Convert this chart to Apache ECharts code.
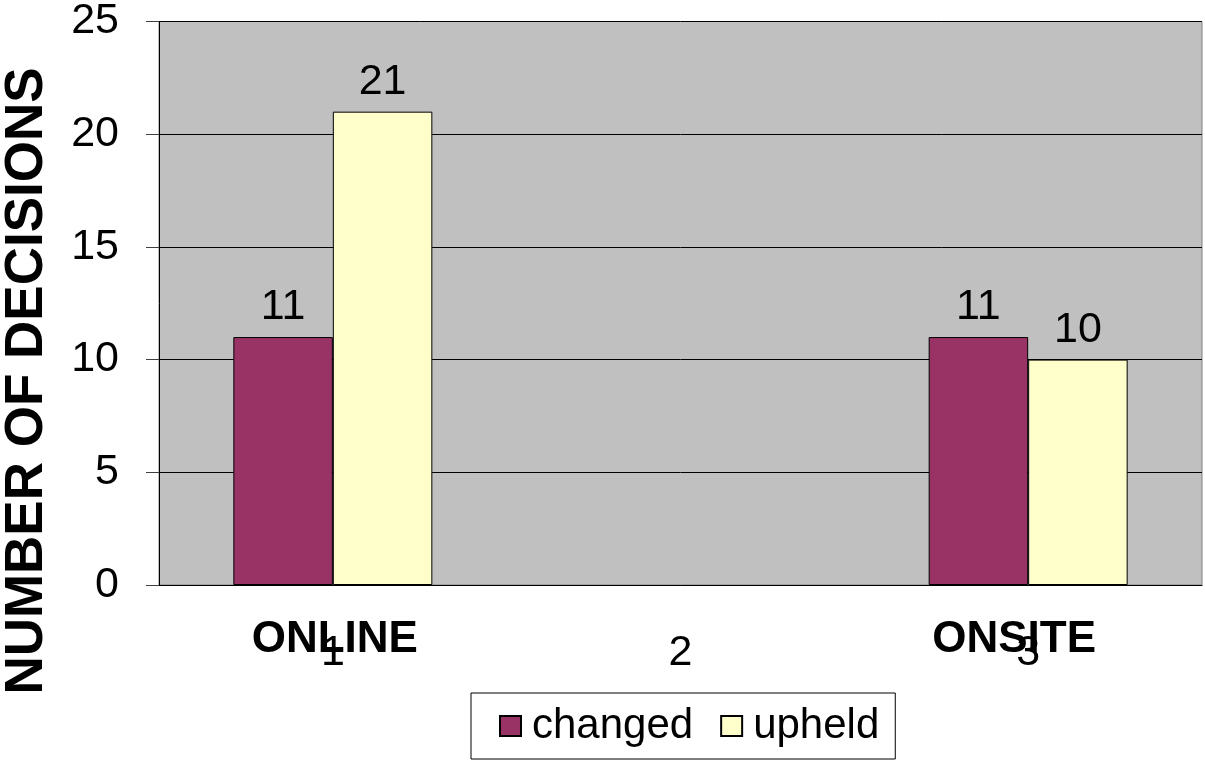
<!DOCTYPE html>
<html>
<head>
<meta charset="utf-8">
<script src="https://cdn.jsdelivr.net/npm/echarts@6/dist/echarts.min.js"></script>
<style>
html,body{margin:0;padding:0;background:#fff;}
#chart{width:1205px;height:763px;}
</style>
</head>
<body>
<div id="chart"></div>
<script>
const categories = ['1', '2', '3'];
const groupNames = ['ONLINE', '', 'ONSITE'];
const groupNameShift = [2, 0, -14];
const changed = [11, null, 11];
const upheld = [21, null, 10];
const yTicks = { min: 0, max: 25, interval: 5 };
const yTitle = 'NUMBER OF DECISIONS';

const FONT = '"Liberation Sans", Arial, sans-serif';
const chart = echarts.init(document.getElementById('chart'), null, { renderer: 'canvas' });

const labelCfg = {
  show: true, position: 'top', distance: 8,
  color: '#000', fontSize: 43, fontFamily: FONT
};

chart.setOption({
  animation: false,
  backgroundColor: '#ffffff',
  grid: {
    left: 159, right: 3, top: 19, bottom: 178,
    show: true, backgroundColor: '#C0C0C0', borderColor: '#808080', borderWidth: 1
  },
  legend: {
    left: 471, top: 693,
    padding: [12, 16, 12, 28],
    borderColor: '#000', borderWidth: 1,
    itemWidth: 21, itemHeight: 20, itemGap: 27,
    icon: 'rect',
    textStyle: { fontSize: 42, fontFamily: FONT, color: '#000', padding: [0, 0, 0, 6] },
    data: ['changed', 'upheld']
  },
  xAxis: {
    type: 'category',
    data: categories,
    axisLine: { lineStyle: { color: '#000', width: 1 } },
    axisTick: { length: 14, lineStyle: { color: '#404040' } },
    axisLabel: { color: '#000', fontSize: 43, fontFamily: FONT, margin: 47 }
  },
  yAxis: {
    type: 'value',
    min: yTicks.min, max: yTicks.max, interval: yTicks.interval,
    axisLine: { show: true, lineStyle: { color: '#000', width: 1 } },
    axisTick: { show: true, length: 13, lineStyle: { color: '#404040' } },
    axisLabel: { color: '#000', fontSize: 43, fontFamily: FONT, margin: 40 },
    splitLine: { show: true, lineStyle: { color: '#000', width: 1 } }
  },
  series: [
    {
      name: 'changed', type: 'bar', data: changed,
      barWidth: 99.5, barGap: '0%',
      itemStyle: { color: '#993366', borderColor: '#000', borderWidth: 1 },
      label: labelCfg
    },
    {
      name: 'upheld', type: 'bar', data: upheld,
      barWidth: 99.5, barGap: '0%',
      itemStyle: { color: '#FFFFCC', borderColor: '#000', borderWidth: 1 },
      label: labelCfg
    }
  ]
});

const graphics = [{
  type: 'text',
  x: 27, y: 381,
  rotation: Math.PI / 2,
  style: {
    text: yTitle, fontSize: 53, fontWeight: 'bold', fontFamily: FONT, fill: '#000',
    align: 'center', verticalAlign: 'middle'
  },
  z: 100
}];
groupNames.forEach(function (name, i) {
  if (!name) return;
  const px = chart.convertToPixel({ xAxisIndex: 0 }, categories[i]);
  graphics.push({
    type: 'text',
    x: px + groupNameShift[i], y: 640,
    style: {
      text: name, fontSize: 44, fontWeight: 'bold', fontFamily: FONT, fill: '#000',
      align: 'center', verticalAlign: 'middle'
    },
    z: 100
  });
});
chart.setOption({ graphic: graphics });
</script>
</body>
</html>
